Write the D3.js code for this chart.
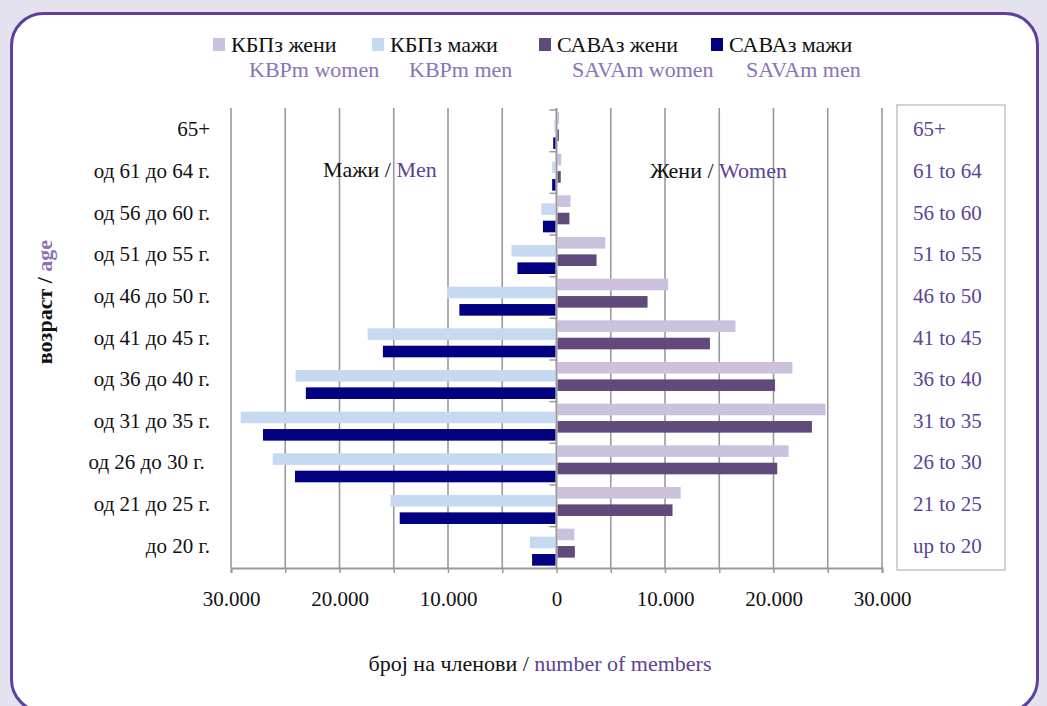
<!DOCTYPE html>
<html>
<head>
<meta charset="utf-8">
<script src="https://cdn.jsdelivr.net/npm/d3@7"></script>
<style>
  body { margin: 0; background: #e5e2ef; }
  svg { display: block; font-family: "Liberation Serif", "Times New Roman", serif; }
</style>
</head>
<body>
<script>
// ---------- data ----------
const categories = ["65+", "од 61 до 64 г.", "од 56 до 60 г.", "од 51 до 55 г.", "од 46 до 50 г.",
  "од 41 до 45 г.", "од 36 до 40 г.", "од 31 до 35 г.", "од 26 до 30 г.\u00a0", "од 21 до 25 г.", "до 20 г."];
const categoriesEn = ["65+", "61 to 64", "56 to 60", "51 to 55", "46 to 50", "41 to 45",
  "36 to 40", "31 to 35", "26 to 30", "21 to 25", "up to 20"];
const kbpWomen  = [150, 350, 1200, 4400, 10200, 16400, 21650, 24700, 21300, 11350, 1550];
const savaWomen = [130, 300, 1100, 3600, 8300, 14050, 20050, 23450, 20250, 10600, 1600];
const kbpMen    = [200, 400, 1400, 4150, 10100, 17400, 24050, 29100, 26150, 15300, 2450];
const savaMen   = [300, 400, 1250, 3600, 8950, 16000, 23100, 27050, 24100, 14450, 2250];
const xTickValues = [-30000, -25000, -20000, -15000, -10000, -5000, 0, 5000, 10000, 15000, 20000, 25000, 30000];
const legendRu = ["КБПз жени", "КБПз мажи", "САВАз жени", "САВАз мажи"];
const legendEn = ["KBPm women", "KBPm men", "SAVAm women", "SAVAm men"];
const seriesColors = ["#ccc1dd", "#c6d9f0", "#604a7b", "#000080"];

// ---------- setup ----------
const W = 1047, H = 706;
const svg = d3.select("body").append("svg").attr("width", W).attr("height", H);
svg.append("rect").attr("width", W).attr("height", H).attr("fill", "#e5e2ef");
svg.append("rect").attr("x", 11.5).attr("y", 13.5).attr("width", 1026).attr("height", 698)
  .attr("rx", 32).attr("ry", 32).attr("fill", "#ffffff").attr("stroke", "#5c3fa0").attr("stroke-width", 3);

const x = d3.scaleLinear().domain([-30000, 30000]).range([231, 882]);
const y = d3.scaleBand().domain(categories).range([110, 568.3]);
const sub = d3.scaleBand().domain(["KBP", "SAVA"]).range([0, 29]).paddingInner(0.333);
const fmt = d3.formatLocale({ decimal: ",", thousands: ".", grouping: [3], currency: ["", ""] }).format(",");
const gridColor = "#9a9a9a";
const textPurple = "#5d4396";
const lightPurple = "#8d72b8";
const FS = 21;

// gridlines
svg.append("g").selectAll("line").data(xTickValues).join("line")
  .attr("x1", d => x(d)).attr("x2", d => x(d)).attr("y1", 108).attr("y2", 568)
  .attr("stroke", gridColor).attr("stroke-width", 1.6);

// bottom axis
const xAxis = svg.append("g").attr("transform", "translate(0,568)")
  .call(d3.axisBottom(x).tickValues(xTickValues).tickSize(5).tickPadding(18)
    .tickFormat(d => d % 10000 === 0 ? fmt(Math.abs(d)) : ""));
xAxis.select(".domain").attr("stroke", gridColor).attr("stroke-width", 2);
xAxis.selectAll(".tick line").attr("stroke", gridColor).attr("stroke-width", 1.5);
xAxis.selectAll(".tick text").attr("font-size", FS).attr("fill", "#111")
  .attr("font-family", "Liberation Serif, serif");

// bars
const rows = categories.map((c, i) => ({ c, kw: kbpWomen[i], sw: savaWomen[i], km: kbpMen[i], sm: savaMen[i] }));
const bh = sub.bandwidth();
const gBars = svg.append("g");
function women(key, sKey, color) {
  gBars.append("g").selectAll("rect").data(rows).join("rect")
    .attr("x", x(0) + 1).attr("width", d => x(d[key]) - x(0))
    .attr("y", d => y(d.c) + 2 + sub(sKey)).attr("height", bh)
    .attr("fill", color);
}
function men(key, sKey, color) {
  gBars.append("g").selectAll("rect").data(rows).join("rect")
    .attr("x", d => x(-d[key])).attr("width", d => x(0) - x(-d[key]) - 1)
    .attr("y", d => y(d.c) + 10 + sub(sKey)).attr("height", bh)
    .attr("fill", color);
}
women("kw", "KBP", seriesColors[0]);
women("sw", "SAVA", seriesColors[2]);
men("km", "KBP", seriesColors[1]);
men("sm", "SAVA", seriesColors[3]);

// category axis at zero
svg.append("line").attr("x1", x(0)).attr("x2", x(0)).attr("y1", 108).attr("y2", 568)
  .attr("stroke", gridColor).attr("stroke-width", 1.6);
svg.append("g").selectAll("line").data(categories.concat(["__end"])).join("line")
  .attr("x1", x(0) - 7).attr("x2", x(0))
  .attr("y1", d => d === "__end" ? 568.3 : y(d)).attr("y2", d => d === "__end" ? 568.3 : y(d))
  .attr("stroke", gridColor).attr("stroke-width", 1.5);

// left category labels
svg.append("g").selectAll("text").data(categories).join("text")
  .attr("x", 210).attr("y", d => y(d) + y.bandwidth() / 2 - 2).attr("dy", "0.35em")
  .attr("text-anchor", "end").attr("font-size", FS).attr("fill", "#111")
  .style("white-space", "pre").text(d => d);

// right english label box
svg.append("rect").attr("x", 897).attr("y", 105).attr("width", 108).attr("height", 465)
  .attr("fill", "#fff").attr("stroke", "#c4c4c4").attr("stroke-width", 1.5);
svg.append("g").selectAll("text").data(categoriesEn).join("text")
  .attr("x", 913).attr("y", (d, i) => y(categories[i]) + y.bandwidth() / 2 - 2).attr("dy", "0.35em")
  .attr("font-size", FS).attr("fill", textPurple).text(d => d);

// inline labels
function twoTone(xp, yp, a, b, colorB, anchor, size, weight, g) {
  const t = (g || svg).append("text").attr("x", xp).attr("y", yp).attr("dy", "0.35em")
    .attr("font-size", size).attr("text-anchor", anchor || "start").attr("font-weight", weight || "normal");
  t.append("tspan").attr("fill", "#111").text(a);
  t.append("tspan").attr("fill", colorB).text(b);
  return t;
}
twoTone(323, 169, "Мажи / ", "Men", textPurple, "start", 22);
twoTone(650, 170, "Жени / ", "Women", textPurple, "start", 22);

// axis titles
twoTone(540, 663, "број на членови / ", "number of members", textPurple, "middle", 22);
const yt = svg.append("g").attr("transform", "translate(44,302) rotate(-90)");
twoTone(0, 0, "возраст / ", "age", lightPurple, "middle", 22, "bold", yt);

// legend
const legX = [213, 372, 539, 711];
const legEnX = [249, 409, 572, 746];
const lg = svg.append("g");
legendRu.forEach((t, i) => {
  lg.append("rect").attr("x", legX[i]).attr("y", 38).attr("width", 12).attr("height", 13).attr("fill", seriesColors[i]);
  lg.append("text").attr("x", legX[i] + 18).attr("y", 44).attr("dy", "0.35em").attr("font-size", 22)
    .attr("fill", "#111").text(t);
  lg.append("text").attr("x", legEnX[i]).attr("y", 69).attr("dy", "0.35em").attr("font-size", 22)
    .attr("fill", lightPurple).text(legendEn[i]);
});
</script>
</body>
</html>
